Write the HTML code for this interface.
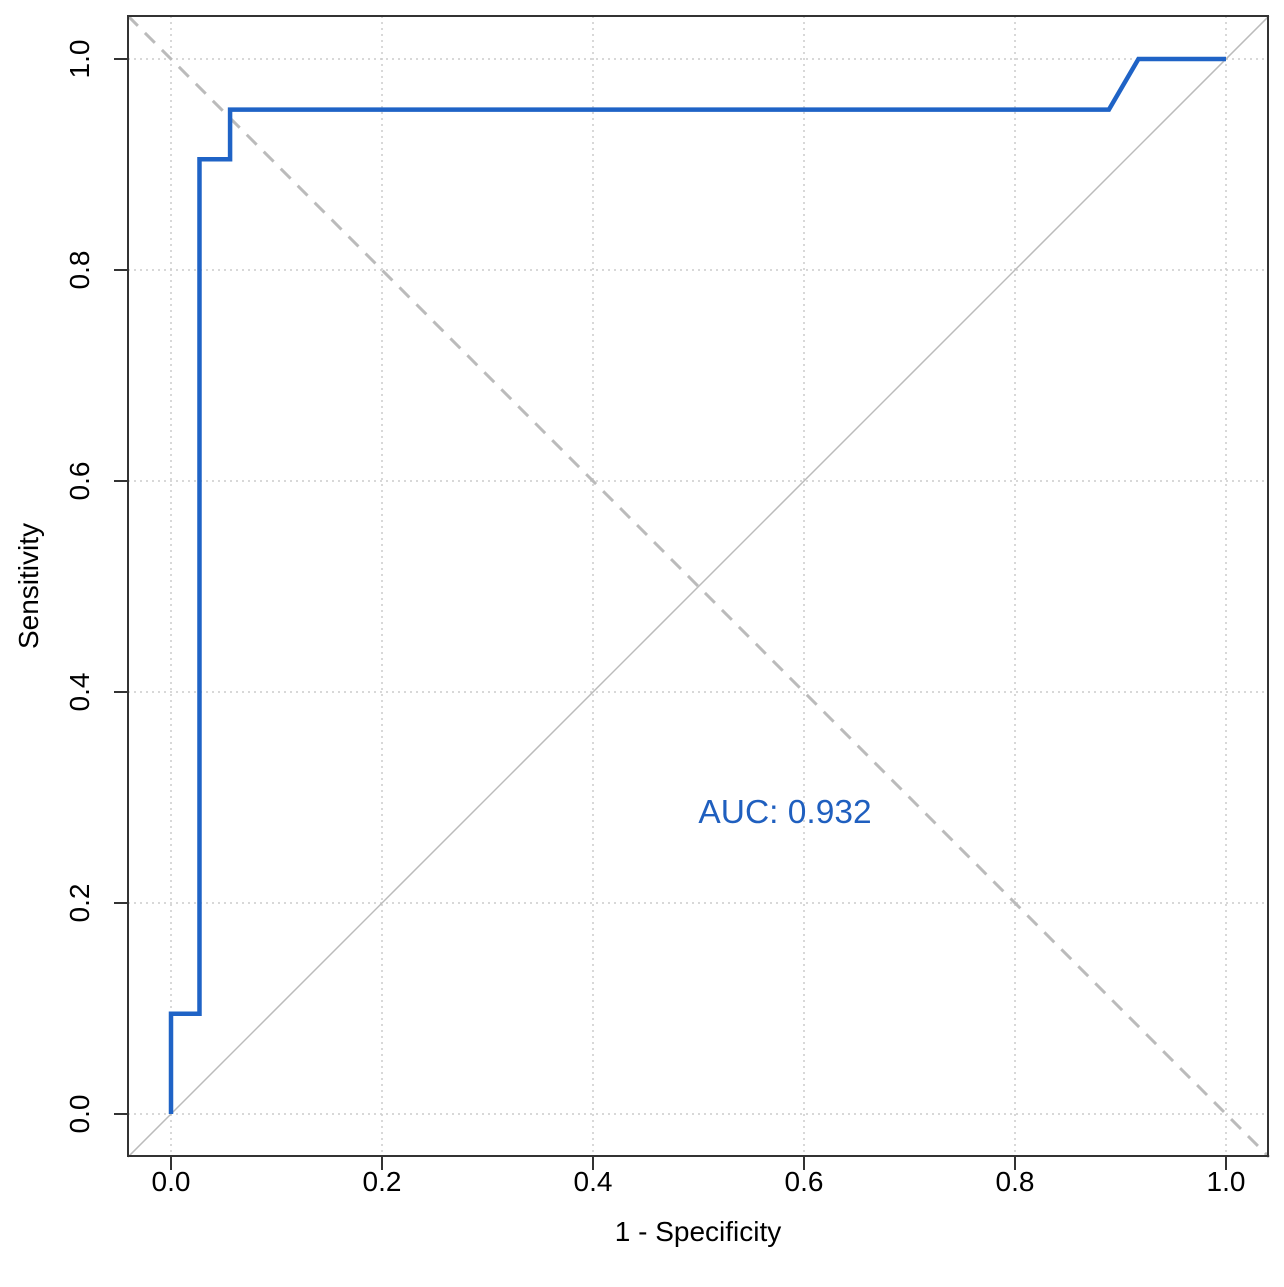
<!DOCTYPE html>
<html><head><meta charset="utf-8"><style>
body{margin:0;background:#fff;}
svg{display:block;font-family:"Liberation Sans",Arial,sans-serif;}
</style></head><body>
<svg id="chart" width="1284" height="1287" viewBox="0 0 1284 1287">
<g id="grid"></g>
<g id="refs"></g>
<g id="series"></g>
<rect x="128" y="16" width="1140" height="1140" fill="none" stroke="#333" stroke-width="2"/>
<g id="axes"></g>
<text x="698" y="1241" font-size="28" text-anchor="middle" fill="#000">1 - Specificity</text>
<text transform="translate(38,586) rotate(-90)" font-size="28" text-anchor="middle" fill="#000">Sensitivity</text>
<text x="785" y="823" font-size="33.5" text-anchor="middle" fill="#1f5fbf">AUC: 0.932</text>
</svg>
<script>
const fpr = [0, 0, 0.027, 0.027, 0.056, 0.056, 0.889, 0.917, 1];
const tpr = [0, 0.095, 0.095, 0.905, 0.905, 0.952, 0.952, 1, 1];
const ticks = [0, 0.2, 0.4, 0.6, 0.8, 1.0];
const tickLabels = ["0.0", "0.2", "0.4", "0.6", "0.8", "1.0"];
const NS = "http://www.w3.org/2000/svg";
const sx = v => 171 + v * 1055;
const sy = v => 1114 - v * 1055;
function mk(tag, attrs, parent) {
  const e = document.createElementNS(NS, tag);
  for (const k in attrs) e.setAttribute(k, attrs[k]);
  parent.appendChild(e);
  return e;
}
const grid = document.getElementById('grid');
const axes = document.getElementById('axes');
ticks.forEach((t, i) => {
  const gv = mk('line', {x1: sx(t), x2: sx(t), y1: 16, y2: 1156, stroke: '#ccc', 'stroke-width': 1.5, 'stroke-dasharray': '2,4'}, grid);
  
  
  const gh = mk('line', {x1: 128, x2: 1268, y1: sy(t), y2: sy(t), stroke: '#ccc', 'stroke-width': 1.5, 'stroke-dasharray': '2,4'}, grid);
  
  
  const tx = mk('line', {x1: sx(t), x2: sx(t), y1: 1156, y2: 1170, stroke: '#333', 'stroke-width': 2}, axes);
  
  
  const lx = mk('text', {x: sx(t), y: 1191, 'font-size': 28, 'text-anchor': 'middle', fill: '#000'}, axes);
  lx.textContent = tickLabels[i];
  
  
  const ty = mk('line', {x1: 114, x2: 128, y1: sy(t), y2: sy(t), stroke: '#333', 'stroke-width': 2}, axes);
  
  
  const ly = mk('text', {transform: `translate(89,${sy(t)}) rotate(-90)`, 'font-size': 28, 'text-anchor': 'middle', fill: '#000'}, axes);
  ly.textContent = tickLabels[i];
  
  
});
const refs = document.getElementById('refs');
const d1 = mk('line', {x1: sx(-0.0408), y1: sy(-0.0408), x2: sx(1.0408), y2: sy(1.0408), stroke: '#bbb', 'stroke-width': 1.5}, refs);


const d2 = mk('line', {x1: sx(-0.0408), y1: sy(1.0408), x2: sx(1.0408), y2: sy(-0.0408), stroke: '#bbb', 'stroke-width': 3, 'stroke-dasharray': '14,10'}, refs);


const pts = fpr.map((f, i) => sx(f) + ',' + sy(tpr[i])).join(' ');
const roc = mk('polyline', {points: pts, fill: 'none', stroke: '#1f63c6', 'stroke-width': 4.5, 'stroke-linejoin': 'miter'}, document.getElementById('series'));


</script>
</body></html>
